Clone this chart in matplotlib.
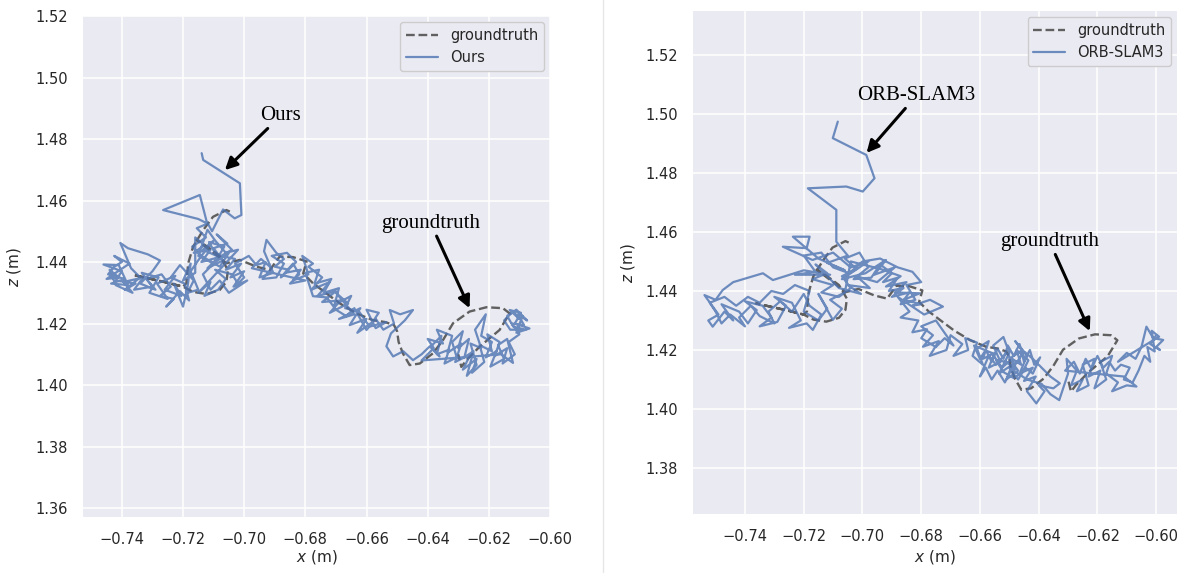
import numpy as np
import matplotlib
matplotlib.use("Agg")
import matplotlib.pyplot as plt
import seaborn as sns
from matplotlib.lines import Line2D

# ---------------- data (x, z) in metres ----------------
groundtruth = [(-0.7047, 1.4564), (-0.7058, 1.4569), (-0.7102, 1.4547), (-0.7134, 1.4504),
               (-0.7167, 1.4450), (-0.7183, 1.4396), (-0.7189, 1.4331), (-0.7200, 1.4320),
               (-0.7265, 1.4336), (-0.7363, 1.4358), (-0.7265, 1.4336), (-0.7200, 1.4320),
               (-0.7167, 1.4303), (-0.7123, 1.4296), (-0.7080, 1.4309), (-0.7058, 1.4336),
               (-0.7053, 1.4374), (-0.7080, 1.4420), (-0.7120, 1.4450), (-0.7156, 1.4472),
               (-0.7100, 1.4430), (-0.7058, 1.4396), (-0.7014, 1.4407), (-0.6960, 1.4385),
               (-0.6916, 1.4374), (-0.6884, 1.4418), (-0.6840, 1.4416), (-0.6796, 1.4402),
               (-0.6807, 1.4363), (-0.6775, 1.4331), (-0.6731, 1.4298), (-0.6688, 1.4266),
               (-0.6633, 1.4233), (-0.6579, 1.4211), (-0.6540, 1.4205), (-0.6510, 1.4195),
               (-0.6500, 1.4175), (-0.6495, 1.4140), (-0.6481, 1.4103), (-0.6459, 1.4065),
               (-0.6426, 1.4070), (-0.6383, 1.4103), (-0.6350, 1.4146), (-0.6317, 1.4201),
               (-0.6263, 1.4239), (-0.6208, 1.4253), (-0.6154, 1.4250), (-0.6132, 1.4233),
               (-0.6165, 1.4179), (-0.6230, 1.4125), (-0.6273, 1.4081), (-0.6290, 1.4059),
               (-0.6300, 1.4100)]

ours_start = [(-0.7139, 1.4754), (-0.7134, 1.4732), (-0.7014, 1.4656), (-0.7009, 1.4553),
              (-0.7031, 1.4542), (-0.7069, 1.4571), (-0.7105, 1.4500), (-0.7123, 1.4533),
              (-0.7145, 1.4618), (-0.7265, 1.4569), (-0.7150, 1.4540), (-0.7120, 1.4525),
              (-0.7155, 1.4510), (-0.7125, 1.4480), (-0.7170, 1.4450), (-0.7140, 1.4420),
              (-0.7100, 1.4470), (-0.7135, 1.4440), (-0.7090, 1.4420), (-0.7115, 1.4465),
              (-0.7065, 1.4450), (-0.7095, 1.4400), (-0.7050, 1.4430), (-0.7080, 1.4385),
              (-0.7140, 1.4420), (-0.7175, 1.4370), (-0.7150, 1.4310), (-0.7185, 1.4300)]
ours_left = [(-0.7165, 1.4340), (-0.7210, 1.4390), (-0.7240, 1.4350), (-0.7195, 1.4330),
             (-0.7180, 1.4275), (-0.7210, 1.4305), (-0.7255, 1.4255), (-0.7230, 1.4280),
             (-0.7275, 1.4290), (-0.7240, 1.4320), (-0.7270, 1.4360), (-0.7320, 1.4345),
             (-0.7290, 1.4310), (-0.7340, 1.4330), (-0.7300, 1.4370), (-0.7275, 1.4405),
             (-0.7315, 1.4425), (-0.7380, 1.4445), (-0.7405, 1.4462), (-0.7370, 1.4380),
             (-0.7340, 1.4350), (-0.7390, 1.4310), (-0.7355, 1.4330), (-0.7420, 1.4340),
             (-0.7400, 1.4370), (-0.7460, 1.4392), (-0.7410, 1.4390), (-0.7380, 1.4325),
             (-0.7435, 1.4330), (-0.7390, 1.4345), (-0.7445, 1.4360), (-0.7425, 1.4385),
             (-0.7400, 1.4400), (-0.7425, 1.4420), (-0.7375, 1.4395), (-0.7450, 1.4345),
             (-0.7410, 1.4350), (-0.7440, 1.4375), (-0.7420, 1.4325), (-0.7365, 1.4300),
             (-0.7395, 1.4335), (-0.7330, 1.4350), (-0.7360, 1.4310), (-0.7300, 1.4320),
             (-0.7335, 1.4365), (-0.7280, 1.4350), (-0.7310, 1.4300), (-0.7250, 1.4280),
             (-0.7285, 1.4330), (-0.7225, 1.4355), (-0.7260, 1.4310), (-0.7205, 1.4290),
             (-0.7230, 1.4330), (-0.7200, 1.4255), (-0.7185, 1.4320), (-0.7175, 1.4395),
             (-0.7200, 1.4340), (-0.7160, 1.4365)]
ours_mid = [(-0.7160, 1.4480), (-0.7130, 1.4455), (-0.7165, 1.4430), (-0.7110, 1.4440),
            (-0.7140, 1.4400), (-0.7085, 1.4415), (-0.7120, 1.4380), (-0.7070, 1.4405),
            (-0.7100, 1.4445), (-0.7055, 1.4460), (-0.7090, 1.4490), (-0.7040, 1.4440),
            (-0.7075, 1.4420), (-0.7030, 1.4410), (-0.7060, 1.4375), (-0.7010, 1.4395),
            (-0.7045, 1.4350), (-0.7000, 1.4370), (-0.7035, 1.4320), (-0.6990, 1.4340),
            (-0.7050, 1.4300), (-0.7080, 1.4340), (-0.7110, 1.4310), (-0.7135, 1.4360),
            (-0.7100, 1.4395), (-0.7150, 1.4420), (-0.7120, 1.4505), (-0.7095, 1.4470),
            (-0.7060, 1.4430), (-0.7020, 1.4440), (-0.7150, 1.4300), (-0.7110, 1.4335),
            (-0.7130, 1.4290), (-0.7085, 1.4310), (-0.7060, 1.4345), (-0.7095, 1.4375),
            (-0.7040, 1.4360), (-0.7020, 1.4330), (-0.7000, 1.4350), (-0.7030, 1.4395),
            (-0.6985, 1.4420), (-0.6960, 1.4390), (-0.6930, 1.4400), (-0.6950, 1.4350),
            (-0.6905, 1.4365), (-0.6935, 1.4435), (-0.6927, 1.4472), (-0.6895, 1.4430),
            (-0.6870, 1.4410), (-0.6900, 1.4385), (-0.6855, 1.4375), (-0.6880, 1.4350),
            (-0.6840, 1.4395), (-0.6820, 1.4360), (-0.6850, 1.4330), (-0.6800, 1.4340),
            (-0.6975, 1.4380), (-0.6945, 1.4410), (-0.6910, 1.4380), (-0.6940, 1.4345),
            (-0.6895, 1.4350), (-0.6870, 1.4395), (-0.6910, 1.4420), (-0.6860, 1.4430),
            (-0.6830, 1.4400), (-0.6865, 1.4365), (-0.6815, 1.4375), (-0.6840, 1.4340),
            (-0.6790, 1.4360), (-0.6810, 1.4420), (-0.6775, 1.4395)]
ours_slope = [(-0.6790, 1.4385), (-0.6745, 1.4350), (-0.6780, 1.4310), (-0.6720, 1.4335),
              (-0.6760, 1.4290), (-0.6700, 1.4305), (-0.6745, 1.4270), (-0.6685, 1.4275),
              (-0.6720, 1.4235), (-0.6660, 1.4265), (-0.6700, 1.4300), (-0.6640, 1.4230),
              (-0.6690, 1.4215), (-0.6620, 1.4250), (-0.6655, 1.4195), (-0.6600, 1.4215),
              (-0.6630, 1.4170), (-0.6580, 1.4205), (-0.6560, 1.4235), (-0.6600, 1.4245),
              (-0.6570, 1.4185), (-0.6535, 1.4205), (-0.6590, 1.4190), (-0.6625, 1.4240),
              (-0.6670, 1.4250), (-0.6650, 1.4290), (-0.6705, 1.4260), (-0.6690, 1.4315),
              (-0.6740, 1.4300), (-0.6715, 1.4345), (-0.6770, 1.4330), (-0.6755, 1.4375),
              (-0.6800, 1.4365), (-0.6775, 1.4289), (-0.6730, 1.4285), (-0.6700, 1.4245),
              (-0.6666, 1.4224), (-0.6640, 1.4250), (-0.6600, 1.4179), (-0.6570, 1.4215),
              (-0.6545, 1.4180), (-0.6510, 1.4200), (-0.6524, 1.4244), (-0.6490, 1.4230),
              (-0.6448, 1.4244), (-0.6475, 1.4210), (-0.6520, 1.4168), (-0.6535, 1.4126),
              (-0.6513, 1.4093), (-0.6480, 1.4110), (-0.6448, 1.4081), (-0.6420, 1.4100),
              (-0.6393, 1.4126), (-0.6361, 1.4093)]
ours_end = [(-0.6390, 1.4125), (-0.6355, 1.4160), (-0.6370, 1.4100), (-0.6330, 1.4115),
            (-0.6345, 1.4070), (-0.6305, 1.4090), (-0.6320, 1.4140), (-0.6285, 1.4175),
            (-0.6300, 1.4120), (-0.6265, 1.4150), (-0.6280, 1.4090), (-0.6250, 1.4110),
            (-0.6272, 1.4030), (-0.6240, 1.4065), (-0.6260, 1.4135), (-0.6225, 1.4120),
            (-0.6245, 1.4180), (-0.6210, 1.4230), (-0.6225, 1.4160), (-0.6190, 1.4140),
            (-0.6210, 1.4090), (-0.6175, 1.4110), (-0.6195, 1.4060), (-0.6150, 1.4085),
            (-0.6170, 1.4130), (-0.6140, 1.4150), (-0.6121, 1.4072), (-0.6160, 1.4100),
            (-0.6420, 1.4080), (-0.6380, 1.4120), (-0.6400, 1.4150), (-0.6350, 1.4135),
            (-0.6370, 1.4180), (-0.6320, 1.4160), (-0.6335, 1.4105), (-0.6290, 1.4135),
            (-0.6310, 1.4075), (-0.6260, 1.4100), (-0.6285, 1.4050), (-0.6240, 1.4085),
            (-0.6255, 1.4040), (-0.6215, 1.4075), (-0.6230, 1.4130), (-0.6190, 1.4110),
            (-0.6205, 1.4165), (-0.6165, 1.4140), (-0.6180, 1.4095), (-0.6140, 1.4120),
            (-0.6155, 1.4070), (-0.6115, 1.4100), (-0.6135, 1.4140), (-0.6100, 1.4165),
            (-0.6125, 1.4200), (-0.6085, 1.4195), (-0.6105, 1.4230), (-0.6075, 1.4210),
            (-0.6110, 1.4245), (-0.6140, 1.4225), (-0.6120, 1.4190), (-0.6080, 1.4180),
            (-0.6130, 1.4180), (-0.6150, 1.4210), (-0.6120, 1.4240), (-0.6100, 1.4215),
            (-0.6132, 1.4244), (-0.6095, 1.4235), (-0.6115, 1.4200), (-0.6067, 1.4184),
            (-0.6110, 1.4170), (-0.6090, 1.4225)]

orb_start = [(-0.7084, 1.4974), (-0.7101, 1.4918), (-0.6987, 1.4861), (-0.6959, 1.4782),
             (-0.6999, 1.4737), (-0.7055, 1.4754), (-0.7186, 1.4748), (-0.7089, 1.4675),
             (-0.7089, 1.4567), (-0.7050, 1.4520), (-0.7120, 1.4495), (-0.7060, 1.4470),
             (-0.7150, 1.4510), (-0.7237, 1.4584), (-0.7180, 1.4584), (-0.7190, 1.4545),
             (-0.7271, 1.4550), (-0.7170, 1.4505), (-0.7100, 1.4530), (-0.7040, 1.4480),
             (-0.6980, 1.4500), (-0.7070, 1.4440), (-0.6990, 1.4460), (-0.6920, 1.4505),
             (-0.6960, 1.4455), (-0.6890, 1.4480), (-0.6950, 1.4430), (-0.7020, 1.4450),
             (-0.6975, 1.4410), (-0.7050, 1.4420), (-0.7005, 1.4390), (-0.7080, 1.4410),
             (-0.7160, 1.4490), (-0.7120, 1.4460), (-0.7170, 1.4440), (-0.7100, 1.4420),
             (-0.7140, 1.4395), (-0.7080, 1.4380), (-0.7040, 1.4410), (-0.7070, 1.4450),
             (-0.7020, 1.4475), (-0.7060, 1.4510), (-0.7010, 1.4530), (-0.6980, 1.4480),
             (-0.7030, 1.4440), (-0.6970, 1.4445), (-0.6940, 1.4490), (-0.6900, 1.4460),
             (-0.6930, 1.4430), (-0.6880, 1.4445), (-0.6910, 1.4400), (-0.6860, 1.4410),
             (-0.6900, 1.4380), (-0.6840, 1.4395), (-0.6870, 1.4355), (-0.6820, 1.4370),
             (-0.6850, 1.4420), (-0.6800, 1.4430), (-0.6830, 1.4465), (-0.6880, 1.4480),
             (-0.6940, 1.4510), (-0.7000, 1.4500), (-0.7045, 1.4460), (-0.7100, 1.4480),
             (-0.7140, 1.4530), (-0.7200, 1.4520), (-0.7160, 1.4465), (-0.7230, 1.4455),
             (-0.7110, 1.4455), (-0.7200, 1.4470)]
orb_left = [(-0.7305, 1.4437), (-0.7339, 1.4460), (-0.7440, 1.4430), (-0.7476, 1.4403),
            (-0.7500, 1.4370), (-0.7538, 1.4386), (-0.7490, 1.4320), (-0.7525, 1.4300),
            (-0.7510, 1.4279), (-0.7470, 1.4330), (-0.7440, 1.4300), (-0.7480, 1.4355),
            (-0.7420, 1.4330), (-0.7390, 1.4290), (-0.7360, 1.4335), (-0.7400, 1.4365),
            (-0.7340, 1.4350), (-0.7310, 1.4310), (-0.7350, 1.4280), (-0.7290, 1.4295),
            (-0.7260, 1.4350), (-0.7300, 1.4380), (-0.7240, 1.4360), (-0.7210, 1.4300),
            (-0.7250, 1.4275), (-0.7190, 1.4290), (-0.7169, 1.4268), (-0.7140, 1.4320),
            (-0.7180, 1.4350), (-0.7200, 1.4390), (-0.7240, 1.4330), (-0.7280, 1.4365),
            (-0.7320, 1.4330), (-0.7300, 1.4290), (-0.7350, 1.4315), (-0.7380, 1.4350),
            (-0.7420, 1.4310), (-0.7400, 1.4280), (-0.7450, 1.4320), (-0.7480, 1.4290),
            (-0.7500, 1.4330), (-0.7520, 1.4360), (-0.7470, 1.4380), (-0.7430, 1.4350),
            (-0.7390, 1.4380), (-0.7350, 1.4360), (-0.7310, 1.4400), (-0.7270, 1.4390),
            (-0.7230, 1.4420), (-0.7180, 1.4400), (-0.7200, 1.4330), (-0.7150, 1.4300),
            (-0.7120, 1.4340), (-0.7150, 1.4390), (-0.7101, 1.4302), (-0.7070, 1.4340),
            (-0.7110, 1.4370), (-0.7060, 1.4395), (-0.7040, 1.4500), (-0.6940, 1.4475),
            (-0.6870, 1.4450), (-0.6920, 1.4415), (-0.6850, 1.4430), (-0.6890, 1.4395),
            (-0.6805, 1.4392), (-0.6860, 1.4370), (-0.6800, 1.4355)]
orb_slope = [(-0.6830, 1.4350), (-0.6770, 1.4370), (-0.6726, 1.4347), (-0.6790, 1.4320),
             (-0.6880, 1.4380), (-0.6840, 1.4330), (-0.6870, 1.4310), (-0.6810, 1.4300),
             (-0.6830, 1.4260), (-0.6780, 1.4270), (-0.6800, 1.4240), (-0.6750, 1.4210),
             (-0.6720, 1.4240), (-0.6690, 1.4215), (-0.6750, 1.4300), (-0.6800, 1.4280),
             (-0.6760, 1.4250), (-0.6794, 1.4211), (-0.6740, 1.4230), (-0.6771, 1.4180),
             (-0.6714, 1.4200), (-0.6700, 1.4250), (-0.6660, 1.4220), (-0.6690, 1.4180),
             (-0.6640, 1.4200), (-0.6650, 1.4240), (-0.6610, 1.4225)]
orb_cluster = [(-0.6625, 1.4180), (-0.6590, 1.4150), (-0.6610, 1.4205), (-0.6570, 1.4230),
               (-0.6590, 1.4170), (-0.6550, 1.4190), (-0.6570, 1.4140), (-0.6530, 1.4160),
               (-0.6555, 1.4215), (-0.6520, 1.4244), (-0.6500, 1.4190), (-0.6535, 1.4120),
               (-0.6490, 1.4150), (-0.6510, 1.4100), (-0.6470, 1.4130), (-0.6500, 1.4170),
               (-0.6455, 1.4200), (-0.6480, 1.4230), (-0.6440, 1.4180), (-0.6465, 1.4120),
               (-0.6420, 1.4140), (-0.6450, 1.4095), (-0.6410, 1.4110), (-0.6440, 1.4060),
               (-0.6408, 1.4019), (-0.6380, 1.4060), (-0.6400, 1.4080), (-0.6350, 1.4070),
               (-0.6328, 1.4087), (-0.6360, 1.4110), (-0.6420, 1.4170), (-0.6450, 1.4195),
               (-0.6480, 1.4150), (-0.6510, 1.4190), (-0.6545, 1.4150), (-0.6570, 1.4180),
               (-0.6600, 1.4110), (-0.6580, 1.4140), (-0.6560, 1.4100), (-0.6540, 1.4130),
               (-0.6515, 1.4090), (-0.6495, 1.4130), (-0.6470, 1.4100), (-0.6445, 1.4140),
               (-0.6420, 1.4120), (-0.6395, 1.4175), (-0.6415, 1.4150), (-0.6430, 1.4200),
               (-0.6450, 1.4160), (-0.6465, 1.4220), (-0.6485, 1.4180), (-0.6505, 1.4215),
               (-0.6520, 1.4170), (-0.6540, 1.4205), (-0.6560, 1.4160), (-0.6580, 1.4200),
               (-0.6600, 1.4170), (-0.6620, 1.4215), (-0.6560, 1.4190), (-0.6525, 1.4140),
               (-0.6490, 1.4170), (-0.6460, 1.4150), (-0.6475, 1.4200), (-0.6435, 1.4165),
               (-0.6455, 1.4125), (-0.6485, 1.4105), (-0.6520, 1.4125), (-0.6545, 1.4165),
               (-0.6510, 1.4160), (-0.6480, 1.4135), (-0.6500, 1.4140), (-0.6440, 1.4100),
               (-0.6390, 1.4085), (-0.6360, 1.4050), (-0.6330, 1.4030), (-0.6300, 1.4120)]
orb_end = [(-0.6305, 1.4170), (-0.6270, 1.4130), (-0.6290, 1.4080), (-0.6250, 1.4100),
           (-0.6270, 1.4060), (-0.6230, 1.4080), (-0.6250, 1.4150), (-0.6210, 1.4170),
           (-0.6230, 1.4110), (-0.6190, 1.4130), (-0.6210, 1.4070), (-0.6170, 1.4100),
           (-0.6190, 1.4160), (-0.6150, 1.4180), (-0.6170, 1.4120), (-0.6130, 1.4090),
           (-0.6150, 1.4060), (-0.6100, 1.4080), (-0.6067, 1.4076), (-0.6110, 1.4110),
           (-0.6310, 1.4130), (-0.6280, 1.4160), (-0.6260, 1.4120), (-0.6240, 1.4170),
           (-0.6220, 1.4135), (-0.6200, 1.4180), (-0.6180, 1.4140), (-0.6160, 1.4160),
           (-0.6140, 1.4130), (-0.6120, 1.4150), (-0.6090, 1.4140), (-0.6110, 1.4100),
           (-0.6080, 1.4090), (-0.6060, 1.4130), (-0.6040, 1.4180), (-0.6020, 1.4160),
           (-0.6030, 1.4210), (-0.6005, 1.4195), (-0.6015, 1.4265), (-0.5990, 1.4245),
           (-0.6130, 1.4160), (-0.6100, 1.4190), (-0.6070, 1.4170), (-0.6050, 1.4210),
           (-0.6033, 1.4279), (-0.6010, 1.4240), (-0.5976, 1.4234), (-0.6000, 1.4210),
           (-0.5987, 1.4200), (-0.6020, 1.4220), (-0.6000, 1.4250)]

left_xticks = [-0.74, -0.72, -0.70, -0.68, -0.66, -0.64, -0.62, -0.60]
left_yticks = [1.36, 1.38, 1.40, 1.42, 1.44, 1.46, 1.48, 1.50, 1.52]
right_xticks = [-0.74, -0.72, -0.70, -0.68, -0.66, -0.64, -0.62, -0.60]
right_yticks = [1.38, 1.40, 1.42, 1.44, 1.46, 1.48, 1.50, 1.52]

gt = np.array(groundtruth)
ours = np.array(ours_start + ours_left + ours_mid + ours_slope + ours_end)
orb = np.array(orb_start + orb_left + orb_slope + orb_cluster + orb_end)

# ---------------- style ----------------
sns.set_style("darkgrid")
plt.rcParams['font.family'] = ['DejaVu Sans']
plt.rcParams['axes.facecolor'] = '#EAEAF2'

fig = plt.figure(figsize=(11.84, 5.73), dpi=100)
fig.patch.set_facecolor('white')

blue = '#4C72B0'
TICK = 10.5


def setup(ax, xlim, ylim, xticks, yticks, ylab_x, xlab_y):
    ax.set_xlim(*xlim)
    ax.set_ylim(*ylim)
    ax.set_xticks(xticks)
    ax.set_yticks(yticks)
    ax.set_xticklabels([f"{v:.2f}".replace('-', '\u2212') for v in xticks])
    ax.set_yticklabels([f"{v:.2f}" for v in yticks])
    ax.tick_params(axis='both', labelsize=TICK, pad=11, length=0, colors='#262626')
    ax.set_xlabel('$x$ (m)', fontsize=11, color='#262626')
    ax.set_ylabel('$z$ (m)', fontsize=11, color='#262626')
    ax.yaxis.set_label_coords(ylab_x, 0.5)
    ax.xaxis.set_label_coords(0.5, xlab_y)
    for s in ax.spines.values():
        s.set_visible(False)
    ax.grid(True, color='white', lw=1.1)


axL = fig.add_axes([83/1184, 1-517/573, (550-83)/1184, (517-16)/573])
axL.plot(gt[:, 0], gt[:, 1], '--', color='#606060', lw=1.7, label='groundtruth', zorder=2)
axL.plot(ours[:, 0], ours[:, 1], '-', color=blue, alpha=0.8, lw=1.6, label='Ours', zorder=3)
setup(axL, (-0.7527, -0.6000), (1.3571, 1.5200), left_xticks, left_yticks, -0.128, -0.062)
axL.legend(loc='upper right', fontsize=TICK, frameon=True, facecolor='#EAEAF2',
           edgecolor='#CCCCCC', framealpha=1.0, borderaxespad=0.4, handlelength=2.2)

axR = fig.add_axes([693/1184, 1-514/573, (1177-693)/1184, (514-11)/573])
axR.plot(gt[:, 0], gt[:, 1], '--', color='#606060', lw=1.7, label='groundtruth', zorder=2)
axR.plot(orb[:, 0], orb[:, 1], '-', color=blue, alpha=0.8, lw=1.6, label='ORB-SLAM3', zorder=3)
setup(axR, (-0.7577, -0.5929), (1.3644, 1.5349), right_xticks, right_yticks, -0.115, -0.068)
axR.legend(loc='upper right', fontsize=TICK, frameon=True, facecolor='#EAEAF2',
           edgecolor='#CCCCCC', framealpha=1.0, borderaxespad=0.4, handlelength=2.2)

ann_kw = dict(fontsize=15, family=['Liberation Serif', 'DejaVu Serif'], color='black',
              ha='center', va='bottom',
              arrowprops=dict(arrowstyle='-|>', color='black', lw=2.2, mutation_scale=18,
                              shrinkA=0, shrinkB=0))

axL.annotate('Ours', xy=(-0.7063, 1.4699), xytext=(-0.6880, 1.4845), **ann_kw)
axL.annotate('groundtruth', xy=(-0.6263, 1.4250), xytext=(-0.6390, 1.4495), **ann_kw)
axR.annotate('ORB-SLAM3', xy=(-0.6986, 1.4868), xytext=(-0.6816, 1.5030), **ann_kw)
axR.annotate('groundtruth', xy=(-0.6226, 1.4264), xytext=(-0.6363, 1.4535), **ann_kw)

fig.add_artist(Line2D([603/1184, 603/1184], [0, 1], color='#E6E6E6', lw=1.0))

fig.savefig('out.png', dpi=100, facecolor='white')
